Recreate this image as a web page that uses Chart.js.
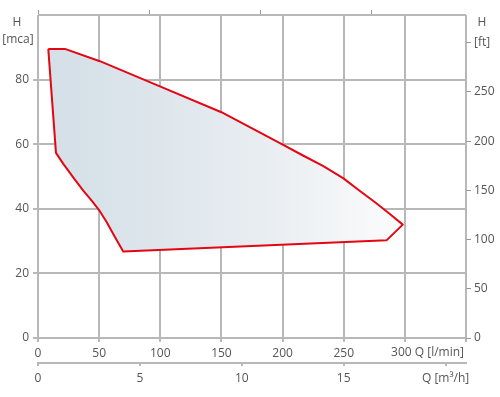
<!DOCTYPE html>
<html>
<head>
<meta charset="utf-8">
<script src="https://cdn.jsdelivr.net/npm/chart.js@4/dist/chart.umd.min.js"></script>
<style>
html, body { margin: 0; padding: 0; background: #fff; }
#wrap { width: 500px; height: 397px; position: relative; }
</style>
</head>
<body>
<div id="wrap"><canvas id="c"></canvas></div>
<script>
//Pump operating range: closed outline in Q [l/min] / H [m],
//with secondary m3/h, ft and (unlabelled) UK gpm axes.

const FLOW_LPM = [8.4, 22, 50.6, 99.7, 150, 199, 216.7, 233, 249.5, 263, 276.7, 288, 298.3,
                  285.2, 69.7, 62.9, 56.1, 49.8, 43.9, 37, 28.8, 20.7, 14.7, 8.4];
const HEAD_M   = [89.5, 89.5, 85.7, 77.9, 69.9, 60.1, 56.5, 53.3, 49.5, 45.6, 41.7, 38.3, 35.1,
                  30.3, 26.8, 31.3, 35.9, 39.7, 42.5, 45.6, 49.7, 53.9, 57.3, 89.5];

const Q_MAX_LPM = 350;
const H_MAX_M   = 100;
const LPM_PER_M3H   = 1000 / 60;
const M_PER_FT      = 0.3048;
const LPM_PER_UKGPM = 4.54609;

const GRID = '#b8b8b8';
const INK  = '#555';
const RED  = '#e30613';
const FONT = { family: '"Open Sans", "Noto Sans", sans-serif', size: 12 };

function fixedWidth(w) { return (s) => { s.width = w; }; }
function fixedHeight(h) { return (s) => { s.height = h; }; }

function areaFill(context)
{
    const chart = context.chart;
    const ca = chart.chartArea;
    if (!ca) return 'rgba(211,222,230,1)';
    const xs = chart.scales.x;
    const g = chart.ctx.createLinearGradient(xs.getPixelForValue(10), 0, xs.getPixelForValue(300), 0);
    g.addColorStop(0, 'rgb(212,223,231)');
    g.addColorStop(0.6, 'rgb(232,237,241)');
    g.addColorStop(1, 'rgb(252,252,252)');
    return g;
}

//axis captions that sit outside the tick labels
const captions = {
    id: 'captions',
    afterDraw(chart)
    {
        const ctx = chart.ctx;
        ctx.save();
        ctx.fillStyle = INK;
        ctx.font = `${FONT.size}px ${FONT.family}`;
        ctx.textBaseline = 'middle';
        ctx.textAlign = 'center';
        ctx.fillText('H', 17, 23);
        ctx.fillText('[mca]', 18, 40);
        ctx.fillText('H', 482, 23);
        ctx.textAlign = 'right';
        ctx.fillText('300 Q [l/min]', 464, 353);
        ctx.restore();
    },
};

const points = FLOW_LPM.map((q, i) => ({ x: q, y: HEAD_M[i] }));

new Chart(document.getElementById('c'), {
    type: 'scatter',
    data: {
        datasets: [{
            data: points,
            showLine: true,
            fill: 'shape',
            backgroundColor: areaFill,
            borderColor: RED,
            borderWidth: 2,
            borderJoinStyle: 'round',
            tension: 0,
            pointRadius: 0,
            pointHoverRadius: 0,
        }],
    },
    options: {
        responsive: true,
        maintainAspectRatio: false,
        animation: false,
        layout: { padding: 0 },
        plugins: { legend: { display: false }, tooltip: { enabled: false } },
        scales: {
            x: {
                type: 'linear', position: 'bottom', weight: 0,
                min: 0, max: Q_MAX_LPM,
                afterFit: fixedHeight(25),
                grid: { color: GRID, lineWidth: 2, tickLength: 4, tickColor: GRID },
                border: { display: false },
                ticks: {
                    stepSize: 50, color: INK, font: FONT, padding: 4, maxRotation: 0,
                    callback: (v) => (v < 300 ? String(v) : ''),
                },
            },
            x2: {
                type: 'linear', position: 'bottom', weight: 1,
                min: 0, max: Q_MAX_LPM / LPM_PER_M3H,
                afterFit: fixedHeight(34),
                grid: { drawOnChartArea: false, color: GRID, lineWidth: 2, tickLength: 3, tickColor: GRID },
                border: { display: true, color: GRID, width: 2 },
                ticks: {
                    stepSize: 5, includeBounds: false, color: INK, font: FONT, padding: 5, maxRotation: 0,
                    callback: (v) => (v === 20 ? 'Q [m³/h]' : String(v)),
                },
            },
            x3: {
                type: 'linear', position: 'top',
                min: 0, max: Q_MAX_LPM / LPM_PER_UKGPM,
                afterFit: fixedHeight(15),
                grid: { drawOnChartArea: false, color: GRID, lineWidth: 1, tickLength: 5, tickColor: '#999' },
                border: { display: false },
                ticks: { stepSize: 20, includeBounds: false, display: true, callback: () => '', padding: 0 },
            },
            y: {
                type: 'linear', position: 'left',
                min: 0, max: H_MAX_M,
                afterFit: fixedWidth(38),
                grid: {
                    color: GRID, lineWidth: 2, tickLength: 5,
                    tickColor: (c) => (c.tick && c.tick.value === 100 ? 'rgba(0,0,0,0)' : GRID),
                },
                border: { display: false },
                ticks: {
                    stepSize: 20, color: INK, font: FONT, padding: 4,
                    callback: (v) => (v < 100 ? String(v) : ''),
                },
            },
            y2: {
                type: 'linear', position: 'right',
                min: 0, max: H_MAX_M / M_PER_FT,
                afterFit: fixedWidth(34),
                grid: { drawOnChartArea: false, color: GRID, lineWidth: 1, tickLength: 5, tickColor: '#999' },
                border: { display: false },
                ticks: {
                    stepSize: 50, includeBounds: false, color: INK, font: FONT, padding: 3,
                    callback: (v) => (v === 300 ? '[ft]' : String(v)),
                },
            },
        },
    },
    plugins: [captions],
});
</script>
</body>
</html>
